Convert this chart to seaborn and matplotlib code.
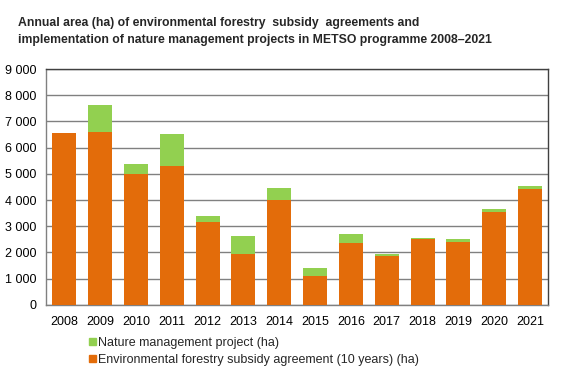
import numpy as np
import pandas as pd
import seaborn as sns
import matplotlib.pyplot as plt
from matplotlib.patches import Patch
from matplotlib.ticker import FuncFormatter

sns.set_style('white')
plt.rcParams['font.family'] = ['Liberation Sans', 'DejaVu Sans']

# Values (ha)
years = ['2008', '2009', '2010', '2011', '2012', '2013', '2014',
         '2015', '2016', '2017', '2018', '2019', '2020', '2021']
agreement = [6560, 6600, 4990, 5300, 3180, 1940, 4000,
             1110, 2360, 1870, 2520, 2400, 3560, 4420]
nature = [0, 1020, 380, 1220, 210, 690, 460,
          310, 350, 70, 50, 130, 100, 120]

orange = '#E36C0A'
green = '#92D050'

df = pd.DataFrame({'year': years, 'agreement': agreement, 'nature': nature})
df['total'] = df['agreement'] + df['nature']

fig, ax = plt.subplots(figsize=(5.66, 3.75), dpi=100)
fig.subplots_adjust(left=0.082, right=0.968, top=0.816, bottom=0.187)

# Total in green, agreement drawn over it in orange -> stacked look
sns.barplot(data=df, x='year', y='total', color=green, saturation=1,
            width=0.67, linewidth=0, ax=ax, zorder=2)
sns.barplot(data=df, x='year', y='agreement', color=orange, saturation=1,
            width=0.67, linewidth=0, ax=ax, zorder=3)

ax.set_ylim(0, 9000)
ax.set_xlim(-0.5, len(years) - 0.5)
ax.set_yticks(np.arange(0, 9001, 1000))
ax.yaxis.set_major_formatter(FuncFormatter(lambda v, p: '{:,.0f}'.format(v).replace(',', ' ')))
ax.set_xlabel('')
ax.set_ylabel('')
ax.grid(axis='y', color='#808080', linewidth=1, zorder=0)
ax.set_axisbelow(True)
ax.tick_params(axis='both', which='both', length=0, labelsize=9, colors='black')
ax.tick_params(axis='y', pad=7)
ax.tick_params(axis='x', pad=8)
for side in ['left', 'bottom']:
    ax.spines[side].set_color('#808080')
for side in ['top', 'right']:
    ax.spines[side].set_color('#404040')
for _, s in ax.spines.items():
    s.set_linewidth(1)
    s.set_visible(True)

fig.text(0.032, 0.955, 'Annual area (ha) of environmental forestry  subsidy  agreements and\n'
         'implementation of nature management projects in METSO programme 2008\u20132021',
         fontsize=8.8, fontweight='bold', va='top', ha='left', linespacing=1.55)

handles = [Patch(color=green, label='Nature management project (ha)'),
           Patch(color=orange, label='Environmental forestry subsidy agreement (10 years) (ha)')]
fig.legend(handles=handles, loc='upper left', bbox_to_anchor=(0.158, 0.102),
           frameon=False, fontsize=9, handlelength=0.5, handleheight=0.5,
           handletextpad=0.2, labelspacing=0.4, borderaxespad=0, borderpad=0)

fig.savefig('out.png', dpi=100)
